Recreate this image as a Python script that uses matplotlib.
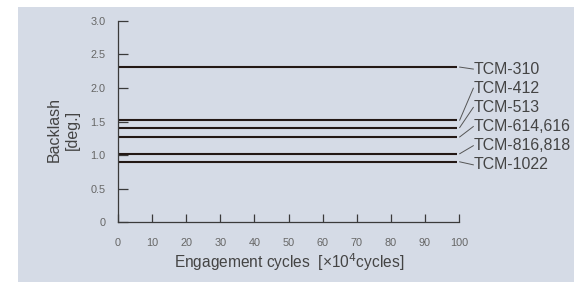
import matplotlib.pyplot as plt
from matplotlib.patches import Rectangle

plt.rcParams['font.family'] = ['Liberation Sans', 'DejaVu Sans']

# Data
cycles = [0, 100]
models = ['TCM-310', 'TCM-412', 'TCM-513', 'TCM-614,616', 'TCM-816,818', 'TCM-1022']
backlash = [2.31, 1.52, 1.41, 1.27, 1.02, 0.90]

x_ticks = list(range(0, 101, 10))
y_ticks = [0, 0.5, 1.0, 1.5, 2.0, 2.5, 3.0]
y_tick_labels = ['0', '0.5', '1.0', '1.5', '2.0', '2.5', '3.0']

# label placement (layout only)
label_y = [2.28, 1.995, 1.71, 1.425, 1.14, 0.855]

W, H = 574, 283
fig = plt.figure(figsize=(W / 100, H / 100), dpi=100)
fig.patch.set_facecolor('white')
bg = Rectangle((18 / W, 1 / H), 1, (282 - 7) / H, transform=fig.transFigure,
               facecolor='#d5dbe6', edgecolor='none', zorder=-5)
fig.add_artist(bg)

ax = fig.add_axes([118 / W, 1 - 222.3 / H, (459 - 118) / W, (222.3 - 20.7) / H])
ax.set_zorder(1)
ax.set_facecolor('none')
ax.set_xlim(0, 100)
ax.set_ylim(0, 3)

for v in backlash:
    ax.plot([cycles[0], cycles[1] - 0.5], [v, v], color='#231815', lw=1.5, solid_capstyle='butt')

for v, ly, name in zip(backlash, label_y, models):
    ax.plot([100.2, 104.2], [v, ly], color='#555555', lw=0.7, clip_on=False)
    ax.text(104.3, ly, name, fontsize=11.4, color='#444444', va='center', ha='left', clip_on=False)

for s in ['top', 'right']:
    ax.spines[s].set_visible(False)
for s in ['left', 'bottom']:
    ax.spines[s].set_color('#3a3a3a')
    ax.spines[s].set_linewidth(0.9)

ax.set_xticks(x_ticks)
ax.set_yticks(y_ticks)
ax.set_yticklabels(y_tick_labels)
ax.tick_params(axis='y', direction='in', length=7, width=0.9, color='#3a3a3a',
               labelsize=7.8, labelcolor='#666666', pad=9)
ax.tick_params(axis='x', direction='in', length=6, width=0.9, color='#3a3a3a',
               labelsize=7.8, labelcolor='#666666', pad=11)

fig.text(63.5 / W, 1 - 130 / H, 'Backlash\n[deg.]', rotation=90, fontsize=11.5, color='#444444',
         ha='center', va='center', multialignment='center', linespacing=1.3)
fig.text(289 / W, 1 - 262 / H, 'Engagement cycles  [×10$^4$cycles]', fontsize=11.2,
         color='#444444', ha='center', va='center')

fig.savefig('out.png', dpi=100)
